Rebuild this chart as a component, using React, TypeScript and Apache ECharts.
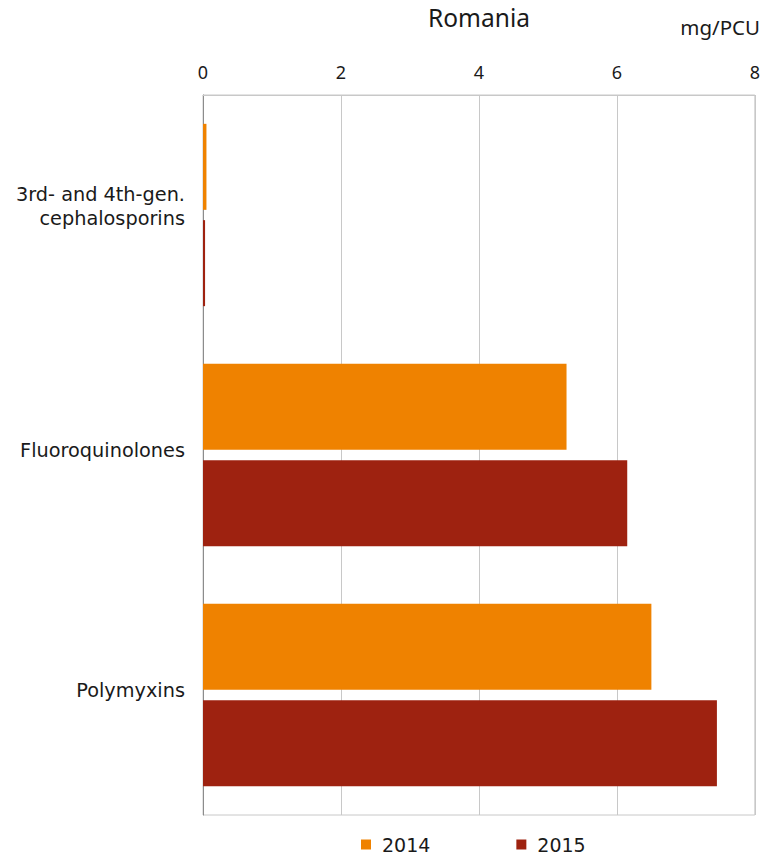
import React, { useEffect, useRef } from "react";
import * as echarts from "echarts";

const categories = ["3rd- and 4th-gen.\ncephalosporins", "Fluoroquinolones", "Polymyxins"];
const seriesNames = ["2014", "2015"];
const values2014 = [0.05, 5.27, 6.5];
const values2015 = [0.03, 6.15, 7.45];
const xTicksMax = 8;
const title = "Romania";
const unit = "mg/PCU";

const FONT = "DejaVu Sans, Verdana, sans-serif";
const FONT2 = "Noto Sans, Segoe UI, sans-serif";

const catText = { fontFamily: FONT, fontSize: 19.3, color: "#1a1a1a", lineHeight: 24, align: "right" as const };

export default function App() {
  const ref = useRef<HTMLDivElement>(null);
  useEffect(() => {
    document.body.style.margin = "0";
    const chart = echarts.init(ref.current!, null, { renderer: "svg" });
    chart.setOption({
      animation: false,
      textStyle: { fontFamily: FONT },
      title: {
        text: title,
        left: 474,
        top: 0,
        textAlign: "center",
        textStyle: { fontFamily: FONT2, fontSize: 24.5, fontWeight: "normal", color: "#1a1a1a" },
      },
      graphic: [
        {
          type: "text",
          right: 3,
          top: 16,
          style: { text: unit, font: `20.5px ${FONT2}`, fill: "#1a1a1a" },
        },
      ],
      legend: {
        data: seriesNames,
        left: 356,
        top: 830,
        itemWidth: 10,
        itemHeight: 10,
        itemGap: 86,
        icon: "rect",
        textStyle: { fontFamily: FONT, fontSize: 19, color: "#1a1a1a", padding: [0, 0, 0, 6] },
      },
      grid: {
        left: 203,
        right: 7,
        top: 95,
        bottom: 41,
        show: true,
        borderColor: "#c8c8c8",
        borderWidth: 1,
      },
      xAxis: {
        type: "value",
        position: "top",
        min: 0,
        max: xTicksMax,
        interval: 2,
        axisLine: { show: true, lineStyle: { color: "#c8c8c8" } },
        axisTick: { show: false },
        axisLabel: { fontFamily: FONT2, fontSize: 18, color: "#1a1a1a", margin: 14 },
        splitLine: { show: true, lineStyle: { color: "#c8c8c8", width: 1 } },
      },
      yAxis: {
        type: "category",
        data: categories,
        inverse: true,
        axisLine: { show: true, lineStyle: { color: "#8c8c8c" } },
        axisTick: { show: false },
        axisLabel: {
          ...catText,
          margin: 18,
          formatter: (v: string) => {
            const lines = v.split("\n");
            const body = lines.map((l) => `{n|${l}}`).join("\n");
            return body + `\n{e${lines.length}| }`;
          },
          rich: {
            n: { ...catText },
            e1: { ...catText, fontSize: 4, lineHeight: 10 },
            e2: { ...catText, fontSize: 4, lineHeight: 18 },
          },
        },
      },
      series: [
        {
          name: seriesNames[0],
          type: "bar",
          data: values2014,
          barWidth: 86,
          barGap: "12%",
          itemStyle: { color: "#EF8200" },
        },
        {
          name: seriesNames[1],
          type: "bar",
          data: values2015,
          barWidth: 86,
          barGap: "12%",
          itemStyle: { color: "#9E2210" },
        },
      ],
    });
    return () => chart.dispose();
  }, []);
  return <div ref={ref} style={{ width: 763, height: 856 }} />;
}
